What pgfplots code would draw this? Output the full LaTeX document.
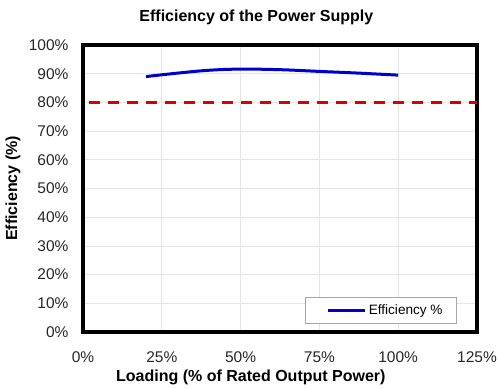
\documentclass[border=0pt]{standalone}
\usepackage{pgfplots}
\pgfplotsset{compat=1.18}
\usepackage{fontspec}
\setmainfont{Liberation Sans}
\begin{document}
\begin{tikzpicture}
\useasboundingbox (-83pt,-57pt) rectangle (416pt,332pt);
\begin{axis}[
  at={(0,0)}, anchor=south west,
  scale only axis, width=394pt, height=287pt,
  xmin=0, xmax=125, ymin=0, ymax=100,
  xtick={0,25,...,125}, ytick={0,10,...,100},
  xticklabel={\pgfmathprintnumber{\tick}\%},
  yticklabel={\pgfmathprintnumber{\tick}\%},
  /pgf/number format/assume math mode=true,
  tick label style={font=\fontsize{15.5}{17}\selectfont, text=black!85},
  xticklabel style={yshift=-16pt},
  yticklabel style={xshift=-11pt},
  major tick length=0pt,
  grid=major, grid style={gray!20, line width=0.8pt},
  axis line style={line width=4pt, black},
  title={Efficiency of the Power Supply},
  title style={font=\fontsize{16}{18}\selectfont\bfseries, at={(axis description cs:0.44,1)}, anchor=center, yshift=22pt},
  xlabel={Loading (\% of Rated Output Power)},
  ylabel={Efficiency (\%)},
  label style={font=\fontsize{16}{18}\selectfont\bfseries},
  xlabel style={at={(axis description cs:0.426,0)}, anchor=center, yshift=-45pt},
  ylabel style={at={(axis description cs:-0.178,0.5)}, anchor=center},
  legend style={at={(0.949,0.031)}, anchor=south east, draw=gray!70, line width=0.6pt, font=\fontsize{13.6}{16}\selectfont, inner xsep=12pt, inner ysep=5pt},
  legend cell align=left,
  legend image code/.code={\path (0pt,0pt); \draw[#1, line width=3pt] (9pt,0pt) -- (46pt,0pt);},
]
\addplot[blue!80!black, line width=3pt, smooth, tension=0.6] coordinates {
  (20,89.0) (30,90.2) (40,91.2) (50,91.6) (62.5,91.4) (75,90.8) (87.5,90.2) (100,89.5)
};
\addlegendentry{Efficiency \%}
\addplot[red!85!black, line width=2.6pt, dash pattern=on 11pt off 8pt, forget plot] coordinates {(2,80) (125,80)};
\end{axis}
\end{tikzpicture}
\end{document}
